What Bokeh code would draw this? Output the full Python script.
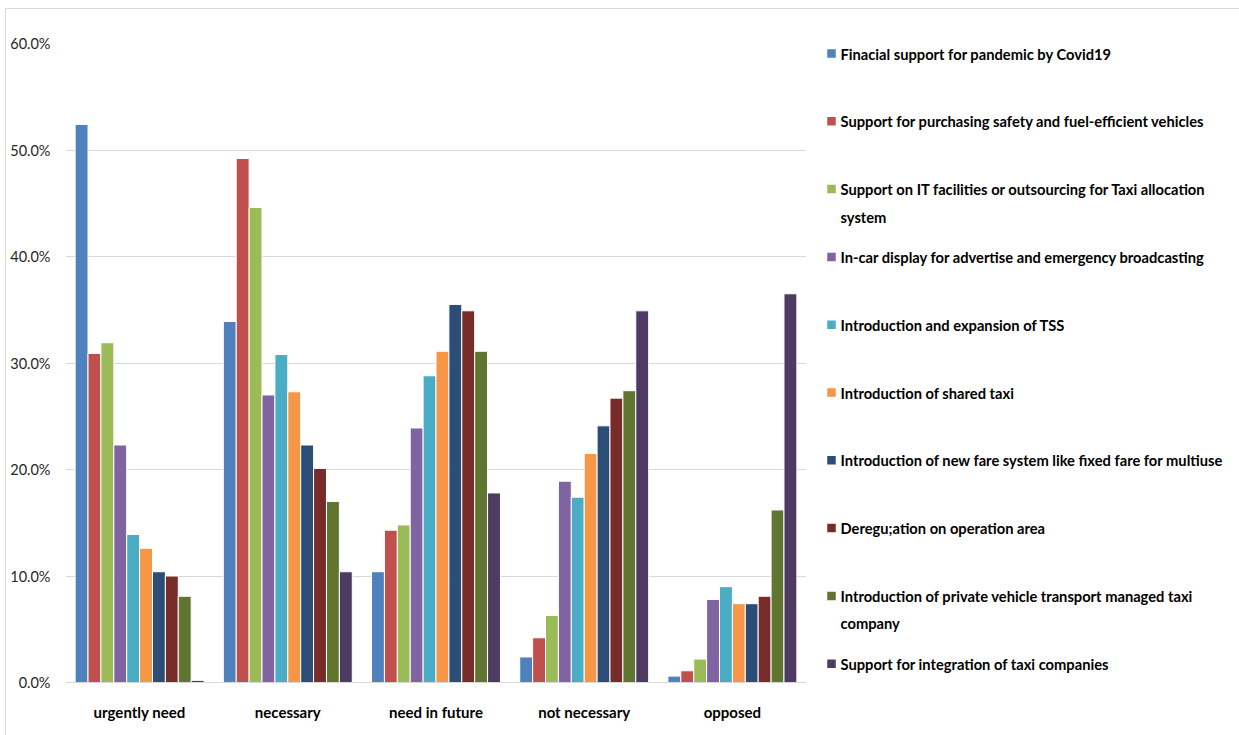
from bokeh.plotting import figure
from bokeh.models import ColumnDataSource, FactorRange, Range1d, PrintfTickFormatter, FixedTicker
from bokeh.transform import dodge
from bokeh.layouts import row
from bokeh.core.properties import value
from bokeh.embed import file_html
from bokeh.resources import INLINE

categories = ["urgently need", "necessary", "need in future", "not necessary", "opposed"]

series_names = [
    "Finacial support for pandemic by Covid19",
    "Support for purchasing safety and fuel-efficient vehicles",
    "Support on IT facilities or outsourcing for Taxi allocation\nsystem",
    "In-car display for advertise and emergency broadcasting",
    "Introduction and expansion of TSS",
    "Introduction of shared taxi",
    "Introduction of new fare system like fixed fare for multiuse",
    "Deregu;ation on operation area",
    "Introduction of private vehicle transport managed taxi\ncompany",
    "Support for integration of taxi companies",
]

series_colors = ["#4F81BD", "#C0504D", "#9BBB59", "#8064A2", "#4BACC6",
                 "#F79646", "#2C4D75", "#772C2A", "#5F7530", "#4D3B62"]

financial_support = [52.4, 33.9, 10.4, 2.4, 0.6]
purchase_support = [30.9, 49.2, 14.3, 4.2, 1.1]
it_support = [31.9, 44.6, 14.8, 6.3, 2.2]
incar_display = [22.3, 27.0, 23.9, 18.9, 7.8]
tss = [13.9, 30.8, 28.8, 17.4, 9.0]
shared_taxi = [12.6, 27.3, 31.1, 21.5, 7.4]
new_fare = [10.4, 22.3, 35.5, 24.1, 7.4]
deregulation = [10.0, 20.1, 34.9, 26.7, 8.1]
private_vehicle = [8.1, 17.0, 31.1, 27.4, 16.2]
integration = [0.2, 10.4, 17.8, 34.9, 36.5]

series_values = [financial_support, purchase_support, it_support, incar_display, tss,
                 shared_taxi, new_fare, deregulation, private_vehicle, integration]

y_ticks = [0, 10, 20, 30, 40, 50, 60]

FONT = "Lato"

data = {"cat": categories}
keys = []
for i, vals in enumerate(series_values):
    k = f"s{i}"
    keys.append(k)
    data[k] = vals
src = ColumnDataSource(data)

TOP = 43
BOTTOM = 53
FRAME_H = 639

p = figure(x_range=FactorRange(*categories), y_range=Range1d(0, 60),
           frame_width=741, frame_height=FRAME_H, output_backend="svg",
           toolbar_location=None, min_border_left=65, min_border_top=TOP,
           min_border_bottom=BOTTOM, min_border_right=4,
           border_fill_color=None, background_fill_color=None)

n = len(series_values)
pitch = 0.087
for i, k in enumerate(keys):
    p.vbar(x=dodge("cat", (i - (n - 1) / 2) * pitch, range=p.x_range), top=k, width=pitch,
           source=src, fill_color=series_colors[i], line_color="white", line_width=1)

p.yaxis.ticker = FixedTicker(ticks=y_ticks)
p.yaxis.formatter = PrintfTickFormatter(format="%.1f%%")
p.yaxis.axis_line_color = None
p.yaxis.major_tick_line_color = None
p.yaxis.minor_tick_line_color = None
p.yaxis.major_label_standoff = 9
p.yaxis.major_label_text_font = FONT
p.yaxis.major_label_text_font_size = "14.5px"
p.yaxis.major_label_text_color = "#262626"

p.xaxis.axis_line_color = "#d9d9d9"
p.xaxis.major_tick_line_color = None
p.xaxis.minor_tick_line_color = None
p.xaxis.major_label_standoff = 14
p.xaxis.major_label_text_font = FONT
p.xaxis.major_label_text_font_size = "15px"
p.xaxis.major_label_text_font_style = "bold"
p.xaxis.major_label_text_color = "#000000"

p.xgrid.grid_line_color = None
p.ygrid.grid_line_color = "#d9d9d9"
p.ygrid.ticker = FixedTicker(ticks=y_ticks)
p.outline_line_color = None

# legend panel: ranges in page pixels (frame spans y 43..682)
lg = figure(frame_width=429, frame_height=FRAME_H, x_range=Range1d(810, 1239),
            y_range=Range1d(682, 43), output_backend="svg", toolbar_location=None,
            min_border_left=0, min_border_right=0, min_border_top=TOP,
            min_border_bottom=BOTTOM, border_fill_color=None, background_fill_color=None)
lg.axis.visible = False
lg.grid.grid_line_color = None
lg.outline_line_color = None

item_y0 = 53
item_pitch = 67.8
line2_gap = 27.5
first_lines, second_lines, ys, ys2, cols = [], [], [], [], []
for i, name in enumerate(series_names):
    parts = name.split("\n")
    y = item_y0 + i * item_pitch
    first_lines.append(parts[0])
    ys.append(y)
    cols.append(series_colors[i])
    if len(parts) > 1:
        second_lines.append(parts[1])
        ys2.append(y + line2_gap)

lg.rect(x=[831] * n, y=ys, width=8.5, height=8.5, fill_color=cols, line_color=None)
lg.text(x=[840] * n, y=ys, text=first_lines, text_baseline="middle", text_align="left",
        text_font=value(FONT), text_font_size="14.7px", text_font_style="bold", text_color="#000000")
lg.text(x=[840] * len(second_lines), y=ys2, text=second_lines, text_baseline="middle",
        text_align="left", text_font=value(FONT), text_font_size="14.7px",
        text_font_style="bold", text_color="#000000")

border_styles = {
    "background-image": "linear-gradient(#d9d9d9, #d9d9d9), linear-gradient(#d9d9d9, #d9d9d9)",
    "background-size": "100% 1px, 1px 100%",
    "background-position": "5px 8px, 5px 8px",
    "background-repeat": "no-repeat",
    "background-color": "white",
}
layout = row(p, lg, styles=border_styles)
open("out.html", "w").write(file_html(layout, INLINE))
